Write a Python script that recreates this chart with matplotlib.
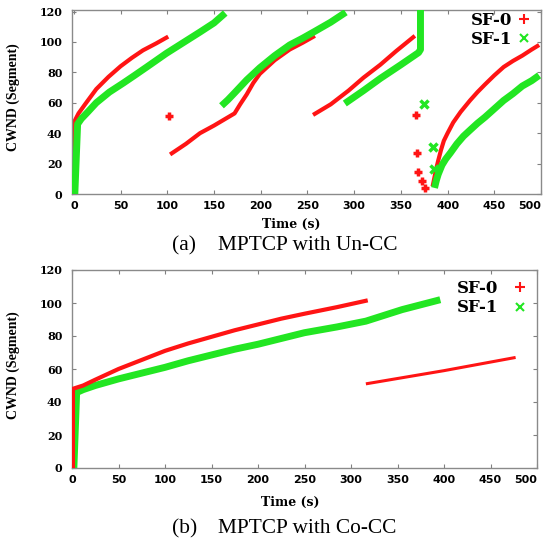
import matplotlib
matplotlib.use('Agg')
import matplotlib.pyplot as plt
from matplotlib.lines import Line2D

RED = '#ff1414'
GREEN = '#22e622'
W, H = 543, 539

# ---------------- data: panel (a) MPTCP with Un-CC ----------------
a_sf0_seg1_t = [0, 0, 5, 12, 24, 37, 50, 62, 74, 88, 101]
a_sf0_seg1_v = [0, 47, 53, 59, 69, 77, 84, 89.5, 94.5, 99, 103.5]
a_sf0_seg2_t = [103, 120, 135, 150, 172, 178, 185, 192, 199, 215, 231, 245, 258]
a_sf0_seg2_v = [26, 33, 40, 45, 53, 59, 65.5, 73, 79, 88, 95, 99.5, 104]
a_sf0_seg3_t = [256, 275, 294, 310, 328, 345, 365]
a_sf0_seg3_v = [52, 59, 68, 76.5, 85, 94, 104]
a_sf0_seg4_t = [384, 386, 388, 390, 393, 396, 400, 406, 414, 424, 432, 440,
                450, 460, 470, 480, 490, 498]
a_sf0_seg4_v = [5, 11, 17, 22, 29, 35, 40, 47, 54, 61.5, 67, 72,
                78, 83.5, 87.5, 91, 95, 98]
a_sf0_pts_t = [102, 366, 367, 368, 372.5, 376]
a_sf0_pts_v = [51, 51.8, 27, 14.5, 8.4, 4.2]

a_sf1_seg1_t = [1, 4, 8, 15, 24, 38, 53, 65, 78, 99, 117, 135, 150, 162]
a_sf1_seg1_v = [0, 46, 49.5, 54, 60, 67, 73, 78, 83.5, 92.5, 99.5, 106.5, 112.5, 119]
a_sf1_seg2_t = [158, 165, 172, 185, 199, 215, 231, 245, 258, 275, 291]
a_sf1_seg2_v = [58, 62, 66.5, 75, 83, 91, 98, 102.5, 107, 113, 119.5]
a_sf1_seg3_t = [290, 310, 328, 350, 369, 371, 371]
a_sf1_seg3_v = [59.5, 68, 76, 85, 93, 95, 121]
a_sf1_seg4_t = [386, 388, 390, 394, 398, 403, 410, 417, 424, 432, 440,
                450, 460, 470, 480, 490, 498]
a_sf1_seg4_v = [4, 9, 13, 19, 23, 27, 33, 38, 42, 46.5, 50.5,
                56, 61.5, 66, 71, 74.5, 78]
a_sf1_pts_t = [375, 384, 385]
a_sf1_pts_v = [59.5, 31, 16.7]

# ---------------- data: panel (b) MPTCP with Co-CC ----------------
b_sf0_seg1_t = [1, 1, 12, 25, 50, 75, 100, 125, 150, 175, 200, 225, 250, 285, 318]
b_sf0_seg1_v = [0, 48, 50, 53.5, 60, 65.5, 71, 75.5, 79.5, 83.5, 87, 90.5, 93.5, 97.5, 101.6]
b_sf0_seg2_t = [316, 400, 477]
b_sf0_seg2_v = [51, 59, 67]
b_sf1_t = [2, 5, 8, 12, 25, 50, 75, 100, 125, 150, 175, 200, 225, 250, 285, 316, 355, 396]
b_sf1_v = [0, 46, 46.5, 47.5, 50, 54, 57.5, 61, 65, 68.5, 72, 75, 78.5, 82, 85.5, 89, 96, 102]

x_ticks = [0, 50, 100, 150, 200, 250, 300, 350, 400, 450, 500]
y_ticks = [0, 20, 40, 60, 80, 100, 120]
legend_labels = ['SF-0', 'SF-1']
captions = [('(a)', 'MPTCP with Un-CC'), ('(b)', 'MPTCP with Co-CC')]

fig = plt.figure(figsize=(W / 100, H / 100), dpi=100)


def px_rect(l, t, r, b):
    return [l / W, 1 - b / H, (r - l) / W, (b - t) / H]


ax_a = fig.add_axes(px_rect(72, 10, 541, 194))
ax_b = fig.add_axes(px_rect(72, 270, 537, 468))

LW0, LW1 = 3.0, 5.0

# panel a
for t, v in [(a_sf0_seg1_t, a_sf0_seg1_v), (a_sf0_seg2_t, a_sf0_seg2_v),
             (a_sf0_seg3_t, a_sf0_seg3_v), (a_sf0_seg4_t, a_sf0_seg4_v)]:
    ax_a.plot(t, v, color=RED, lw=LW0, solid_capstyle='butt', zorder=2)
for t, v in [(a_sf1_seg1_t, a_sf1_seg1_v), (a_sf1_seg2_t, a_sf1_seg2_v),
             (a_sf1_seg3_t, a_sf1_seg3_v), (a_sf1_seg4_t, a_sf1_seg4_v)]:
    ax_a.plot(t, v, color=GREEN, lw=LW1, solid_capstyle='butt', zorder=3)
ax_a.plot(a_sf0_pts_t, a_sf0_pts_v, ls='none', marker='+', ms=6, mew=2.5,
          color=RED, zorder=4)
ax_a.plot(a_sf1_pts_t, a_sf1_pts_v, ls='none', marker='x', ms=6, mew=2.5,
          color=GREEN, zorder=4)

# panel b
ax_b.plot(b_sf0_seg1_t, b_sf0_seg1_v, color=RED, lw=LW0, solid_capstyle='butt', zorder=3)
ax_b.plot(b_sf0_seg2_t, b_sf0_seg2_v, color=RED, lw=2.2, solid_capstyle='butt', zorder=3)
ax_b.plot(b_sf1_t, b_sf1_v, color=GREEN, lw=LW1, solid_capstyle='butt', zorder=2)

ax_a.set_xlim(-2, 500)
ax_a.set_ylim(0, 121)
ax_b.set_xlim(0, 500)
ax_b.set_ylim(0, 120)

for ax, anchor, tpad in ((ax_a, (1.0, 1.045), 0.3), (ax_b, (1.0, 1.0), 0.9)):
    ax.set_xticks(x_ticks)
    ax.set_yticks(y_ticks)
    xl = ax.set_xticklabels([str(x) for x in x_ticks], fontfamily='DejaVu Sans',
                            fontweight='bold', fontsize=8)
    xl[-1].set_horizontalalignment('right')
    xl[-1].set_x(xl[-1].get_position()[0])
    ax.set_yticklabels([str(y) for y in y_ticks], fontfamily='DejaVu Serif',
                       fontweight='bold', fontsize=8)
    ax.tick_params(direction='in', length=3, width=0.8, color='#808080',
                   top=True, right=True)
    ax.tick_params(axis='x', pad=5)
    ax.tick_params(axis='y', pad=7)
    for s in ax.spines.values():
        s.set_color('#8a8a8a')
        s.set_linewidth(1.0)
    handles = [Line2D([], [], ls='none', marker='+', ms=7, mew=1.5, color=RED),
               Line2D([], [], ls='none', marker='x', ms=6, mew=1.5, color=GREEN)]
    ax.legend(handles, legend_labels, loc='upper right', bbox_to_anchor=anchor,
              markerfirst=False, frameon=False, handlelength=0.8,
              handletextpad=tpad, labelspacing=0.15, borderaxespad=0.2,
              prop={'family': 'DejaVu Serif', 'weight': 'bold', 'size': 12})


def ftext(x, y, s, **kw):
    fig.text(x / W, 1 - y / H, s, **kw)


# y labels
ftext(13, 97, 'CWND (Segment)', rotation=90, ha='center', va='center',
      family='Liberation Serif', weight='bold', fontsize=10)
ftext(13, 365, 'CWND (Segment)', rotation=90, ha='center', va='center',
      family='Liberation Serif', weight='bold', fontsize=10)
# x labels
ftext(291, 224, 'Time (s)', ha='center', va='center',
      family='DejaVu Serif', weight='bold', fontsize=9)
ftext(290, 502, 'Time (s)', ha='center', va='center',
      family='DejaVu Serif', weight='bold', fontsize=9)
# captions
for (lab, txt), yb in zip(captions, [250, 533]):
    ftext(172, yb, lab, ha='left', va='baseline', family='Liberation Serif', fontsize=15.4)
    ftext(218, yb, txt, ha='left', va='baseline', family='Liberation Serif', fontsize=15.4)

fig.savefig('out.png', dpi=100)
